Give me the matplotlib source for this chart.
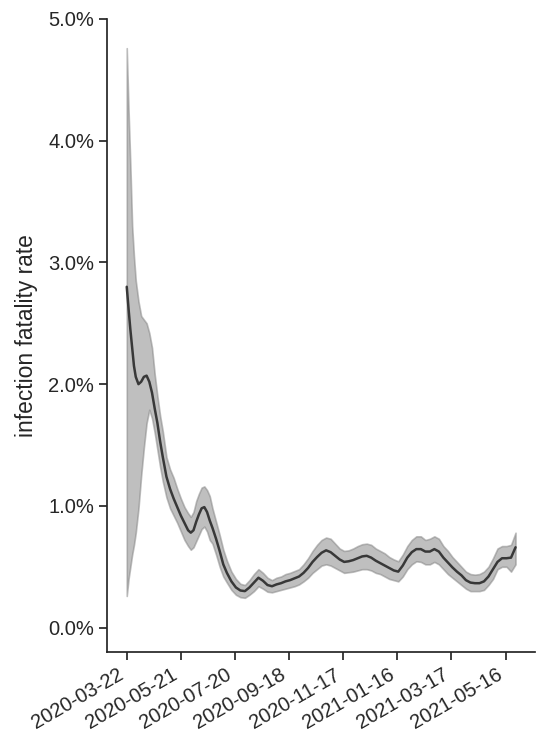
"""
Infection fatality rate over time: median estimate with its credible band.
Values are in percent, read per date (days after 2020-03-22).
"""
import numpy as np
import pandas as pd
import matplotlib
matplotlib.use("Agg")          # headless
import matplotlib.pyplot as plt
import seaborn as sns

START = pd.Timestamp("2020-03-22")

# days after START
DAYS = [0, 2, 4, 6, 8, 10, 13, 16, 19, 22, 25, 28, 31, 34, 37, 40, 44, 48, 52, 56,
        60, 64, 68, 71, 74, 77, 80, 83, 86, 89, 92, 95, 99, 103, 107, 111,
        116, 121, 126, 131, 136, 141, 146, 151, 156, 161, 166, 171, 176, 181,
        186, 191, 196, 201, 206, 211, 216, 221, 226, 231, 236, 241, 246, 251,
        256, 261, 266, 271, 276, 281, 286, 291, 296, 301, 306, 311, 316, 321,
        326, 331, 336, 341, 346, 351, 356, 361, 366, 371, 376, 381, 386, 391,
        396, 401, 406, 411, 416, 421, 426, 431]

# median IFR [%]
IFR_MID = [2.80, 2.62, 2.45, 2.30, 2.15, 2.06, 2.00, 2.02, 2.06, 2.07, 2.02, 1.93,
           1.80, 1.68, 1.53, 1.40, 1.24, 1.14, 1.06, 0.99, 0.92, 0.86, 0.80, 0.78,
           0.80, 0.87, 0.93, 0.98, 0.99, 0.95, 0.88, 0.82, 0.73, 0.63, 0.52, 0.45,
           0.38, 0.33, 0.305, 0.30, 0.33, 0.37, 0.41, 0.385, 0.35, 0.34, 0.355,
           0.365, 0.38, 0.39, 0.405, 0.42, 0.45, 0.49, 0.54, 0.58, 0.615, 0.635,
           0.62, 0.59, 0.56, 0.54, 0.545, 0.555, 0.57, 0.585, 0.59, 0.575, 0.55,
           0.53, 0.51, 0.49, 0.47, 0.46, 0.51, 0.575, 0.62, 0.645, 0.645, 0.625,
           0.625, 0.645, 0.625, 0.575, 0.535, 0.495, 0.46, 0.43, 0.39, 0.37,
           0.365, 0.365, 0.38, 0.42, 0.48, 0.54, 0.57, 0.57, 0.575, 0.66]

# lower / upper band [%]
IFR_LO = [0.26, 0.40, 0.50, 0.60, 0.68, 0.78, 0.98, 1.25, 1.48, 1.68, 1.79, 1.72,
          1.60, 1.46, 1.32, 1.20, 1.07, 0.98, 0.92, 0.86, 0.79, 0.72, 0.67, 0.64,
          0.66, 0.71, 0.76, 0.81, 0.83, 0.79, 0.72, 0.69, 0.60, 0.50, 0.42, 0.37,
          0.31, 0.27, 0.25, 0.245, 0.27, 0.30, 0.34, 0.32, 0.295, 0.29, 0.30,
          0.31, 0.32, 0.33, 0.34, 0.355, 0.38, 0.41, 0.45, 0.48, 0.51, 0.52,
          0.51, 0.49, 0.47, 0.45, 0.455, 0.46, 0.47, 0.48, 0.48, 0.47, 0.45,
          0.44, 0.42, 0.40, 0.39, 0.38, 0.42, 0.48, 0.52, 0.545, 0.54, 0.52,
          0.52, 0.54, 0.52, 0.48, 0.44, 0.41, 0.38, 0.35, 0.32, 0.30,
          0.30, 0.30, 0.31, 0.35, 0.40, 0.48, 0.50, 0.50, 0.46, 0.52]

IFR_HI = [4.76, 4.25, 3.80, 3.30, 3.05, 2.85, 2.68, 2.56, 2.53, 2.50, 2.42, 2.30,
          2.08, 1.90, 1.74, 1.61, 1.40, 1.30, 1.23, 1.14, 1.06, 0.99, 0.94, 0.91,
          0.95, 1.04, 1.10, 1.15, 1.16, 1.13, 1.08, 0.98, 0.87, 0.76, 0.64, 0.55,
          0.46, 0.40, 0.36, 0.35, 0.39, 0.44, 0.48, 0.45, 0.41, 0.39, 0.41,
          0.42, 0.44, 0.45, 0.465, 0.48, 0.52, 0.57, 0.63, 0.68, 0.72, 0.74,
          0.73, 0.69, 0.65, 0.63, 0.635, 0.65, 0.67, 0.685, 0.69, 0.68, 0.65,
          0.63, 0.61, 0.58, 0.56, 0.545, 0.60, 0.67, 0.72, 0.75, 0.75, 0.72,
          0.73, 0.75, 0.73, 0.67, 0.63, 0.58, 0.54, 0.50, 0.46, 0.44,
          0.435, 0.44, 0.46, 0.50, 0.57, 0.65, 0.67, 0.67, 0.68, 0.78]

TICK_DAYS = [0, 60, 120, 180, 240, 300, 360, 420]
Y_TICKS = [0, 1, 2, 3, 4, 5]


def main():
    sns.set_theme(style="ticks")
    plt.rcParams["font.family"] = ["Liberation Sans", "DejaVu Sans"]

    dates = START + pd.to_timedelta(DAYS, unit="D")
    tick_dates = START + pd.to_timedelta(TICK_DAYS, unit="D")

    fig = plt.figure(figsize=(5.5, 7.52), dpi=100)
    ax = fig.add_axes([0.1951, 0.1330, 0.7776, 0.8418])

    ax.fill_between(dates, IFR_LO, IFR_HI, color="gray", alpha=0.5, lw=1.2)
    ax.plot(dates, IFR_MID, color="0.22", lw=1.8)

    ax.set_ylim(-0.2, 5.0)
    ax.set_yticks(Y_TICKS)
    ax.set_yticklabels(["%.1f%%" % v for v in Y_TICKS])
    ax.set_xticks(tick_dates)
    # same as fig.autofmt_xdate(): 30 deg, right aligned, default rotation mode
    ax.set_xticklabels([d.strftime("%Y-%m-%d") for d in tick_dates],
                       rotation=30, ha="right")
    ax.tick_params(labelsize=14.5, length=6, width=1.25, colors="0.15")
    ax.set_ylabel("infection fatality rate", fontsize=16.4, color="0.15",
                  labelpad=7)
    sns.despine(ax=ax)

    fig.savefig("out.png", dpi=100)


if __name__ == "__main__":
    main()
